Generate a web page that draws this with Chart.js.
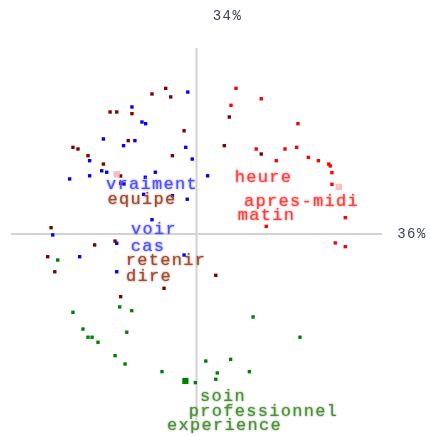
<!DOCTYPE html>
<html>
<head>
<meta charset="utf-8">
<script src="https://cdn.jsdelivr.net/npm/chart.js@4/dist/chart.umd.min.js"></script>
<style>
body { margin: 0; background: #fff; }
#box { width: 430px; height: 436px; }
</style>
</head>
<body>
<div id="box"><canvas id="myChart"></canvas></div>
<script>
// axis inertia labels
var xAxisLabel = "36%";
var yAxisLabel = "34%";

// point coordinates, one array per group
var redX = [0.213, 0.349, 0.186, 0.547, 0.322, 0.477, 0.540, 0.430, 0.603, 0.657, 0.713, 0.721, 0.730, 0.730, 0.802, 0.376, 0.748, 0.802];
var redY = [0.783, 0.727, 0.692, 0.593, 0.457, 0.457, 0.466, 0.394, 0.412, 0.394, 0.376, 0.366, 0.330, 0.267, 0.088, 0.041, -0.048, -0.068];

var pinkX = [-0.430, 0.767];
var pinkY = [0.321, 0.253];

var darkX = [-0.166, -0.240, -0.139, -0.466, -0.430, -0.348, -0.067, -0.368, -0.666, -0.639, -0.585, -0.130, -0.502, -0.409, -0.409, 0.177, 0.150, 0.349, -0.784, -0.549, -0.439, -0.802, -0.764, -0.175, -0.409, 0.104];
var darkY = [0.783, 0.753, 0.737, 0.656, 0.656, 0.647, 0.555, 0.502, 0.466, 0.457, 0.421, 0.421, 0.376, 0.312, 0.273, 0.629, 0.475, 0.430, 0.034, -0.059, -0.038, -0.122, -0.203, -0.292, -0.337, -0.222];

var blueX = [-0.047, -0.348, -0.294, -0.274, -0.502, -0.332, -0.393, -0.058, -0.576, -0.023, -0.511, -0.484, -0.684, -0.576, -0.276, -0.222, 0.060, -0.285, -0.130, -0.050, -0.240, -0.775, -0.430, -0.630, -0.067, -0.430, -0.391];
var blueY = [0.763, 0.683, 0.602, 0.593, 0.511, 0.502, 0.475, 0.466, 0.394, 0.403, 0.340, 0.332, 0.296, 0.313, 0.305, 0.332, 0.313, 0.213, 0.206, 0.187, 0.077, -0.005, -0.050, -0.122, -0.113, -0.203, 0.269];

var greenX = [-0.748, -0.666, -0.414, -0.349, 0.305, -0.612, -0.376, -0.585, -0.563, -0.531, 0.558, -0.439, -0.385, 0.050, 0.184, -0.186, 0.112, 0.285, 0.104, -0.006];
var greenY = [-0.140, -0.421, -0.392, -0.412, -0.446, -0.511, -0.528, -0.555, -0.555, -0.582, -0.555, -0.654, -0.699, -0.683, -0.674, -0.740, -0.747, -0.740, -0.781, -0.799];

var bigGreenX = [-0.060];
var bigGreenY = [-0.790];

// word labels
var words  = ["vraiment", "voir", "cas", "equipe", "retenir", "dire", "heure", "apres-midi", "matin", "soin", "professionnel", "experience"];
var wordX  = [-0.245, -0.235, -0.267, -0.299, -0.170, -0.261, 0.356, 0.561, 0.372, 0.137, 0.356, 0.146];
var wordY  = [0.267, 0.022, -0.065, 0.183, -0.144, -0.226, 0.304, 0.174, 0.102, -0.875, -0.955, -1.032];
var wordGroup = ["blue", "blue", "blue", "dark", "dark", "dark", "red", "red", "red", "green", "green", "green"];

var wordColors = { blue: "#5050ff", dark: "#a04c32", red: "#ff4040", green: "#50903c" };

function toPoints(xs, ys) {
    var pts = [];
    for (var i = 0; i < xs.length; i++) {
        pts.push({x: xs[i], y: ys[i]});
    }
    return pts;
}

function makeSet(label, xs, ys, color, r) {
    return {
        label: label,
        data: toPoints(xs, ys),
        backgroundColor: color,
        borderWidth: 0,
        pointStyle: 'rect',
        pointRadius: r,
        pointHoverRadius: r
    };
}

/*
 * axes crossing at 0,0 plus the two inertia labels
 */
var axesPlugin = {
    id: 'axesCross',
    beforeDatasetsDraw: function(chart) {
        var ctx = chart.ctx;
        var xs = chart.scales.x;
        var ys = chart.scales.y;
        var a = chart.chartArea;
        var x0 = xs.getPixelForValue(0);
        var y0 = ys.getPixelForValue(0);
        ctx.save();
        ctx.strokeStyle = "#d2d2d2";
        ctx.lineWidth = 2;
        ctx.beginPath();
        ctx.moveTo(a.left, y0);
        ctx.lineTo(a.right, y0);
        ctx.moveTo(x0, a.top);
        ctx.lineTo(x0, a.bottom);
        ctx.stroke();

        ctx.fillStyle = "#3c4060";
        ctx.font = "14px 'Liberation Mono'";
        ctx.letterSpacing = "1.5px";
        ctx.textAlign = "center";
        ctx.textBaseline = "middle";
        ctx.fillText(yAxisLabel, x0 + 31, a.top - 32);
        ctx.fillText(xAxisLabel, a.right + 30, y0);
        ctx.restore();
    },
    afterDatasetsDraw: function(chart) {
        var ctx = chart.ctx;
        var xs = chart.scales.x;
        var ys = chart.scales.y;
        ctx.save();
        ctx.font = "17px 'Liberation Mono'";
        ctx.letterSpacing = "1.3px";
        ctx.textAlign = "center";
        ctx.textBaseline = "middle";
        for (var i = 0; i < words.length; i++) {
            var c = wordColors[wordGroup[i]];
            ctx.fillStyle = c;
            ctx.shadowColor = c;
            ctx.shadowBlur = 2;
            ctx.fillText(words[i], xs.getPixelForValue(wordX[i]) + 1, ys.getPixelForValue(wordY[i]));
        }
        ctx.restore();
    }
};

var chart = new Chart(document.getElementById("myChart").getContext('2d'), {
    type: 'scatter',
    data: {
        datasets: [
            makeSet("pink", pinkX, pinkY, "rgba(248,170,170,0.75)", 4.6),
            makeSet("green", greenX, greenY, "#008000", 2.4),
            makeSet("green big", bigGreenX, bigGreenY, "#008000", 4.4),
            makeSet("red", redX, redY, "#ff0000", 2.4),
            makeSet("darkred", darkX, darkY, "#800000", 2.4),
            makeSet("blue", blueX, blueY, "#0000ff", 2.4)
        ]
    },
    options: {
        responsive: true,
        maintainAspectRatio: false,
        animation: false,
        layout: { padding: { left: 11, right: 48, top: 48, bottom: 16 } },
        scales: {
            x: { type: 'linear', min: -1, max: 1, display: false },
            y: { type: 'linear', min: -1, max: 1, display: false }
        },
        plugins: {
            legend: { display: false },
            tooltip: { enabled: false }
        }
    },
    plugins: [axesPlugin]
});
</script>
</body>
</html>
